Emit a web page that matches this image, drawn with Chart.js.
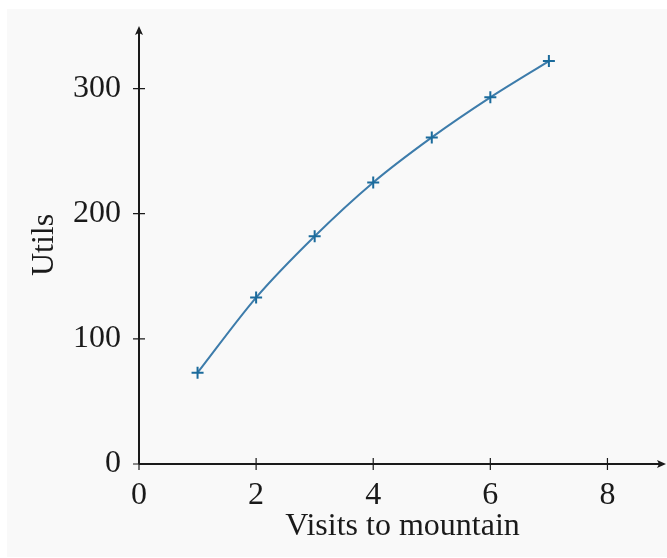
<!DOCTYPE html>
<html><head><meta charset="utf-8">
<script src="https://cdn.jsdelivr.net/npm/chart.js@4/dist/chart.umd.min.js"></script>
<style>html,body{margin:0;padding:0;background:#fff;}#wrap{width:667px;height:558px;}</style>
</head><body><div id="wrap"><canvas id="c" width="667" height="558"></canvas></div>
<script>
const visits = [1, 2, 3, 4, 5, 6, 7];
const utils = [73, 133, 182, 225, 261, 293, 322];
const xTicks = [0, 2, 4, 6, 8];
const yTicks = [0, 100, 200, 300];
const xLabel = 'Visits to mountain';
const yLabel = 'Utils';

const FONT = "'Liberation Serif', 'Times New Roman', serif";

const panelPlugin = {
  id: 'panel',
  beforeDraw(chart) {
    const ctx = chart.ctx;
    ctx.save();
    ctx.fillStyle = '#f9f9f9';
    ctx.fillRect(7, 9, 660, 548);
    ctx.restore();
  }
};

const axesPlugin = {
  id: 'axes',
  beforeDatasetsDraw(chart) {
    const ctx = chart.ctx;
    const xs = chart.scales.x, ys = chart.scales.y;
    const x0 = xs.getPixelForValue(0), y0 = ys.getPixelForValue(0);
    const xEnd = xs.getPixelForValue(xs.max), yEnd = ys.getPixelForValue(ys.max);
    ctx.save();
    ctx.strokeStyle = '#1a1a1a';
    ctx.fillStyle = '#1a1a1a';
    ctx.lineWidth = 2;
    ctx.beginPath();
    ctx.moveTo(x0, y0); ctx.lineTo(xEnd - 4, y0);
    ctx.moveTo(x0, y0); ctx.lineTo(x0, yEnd + 4);
    ctx.stroke();
    // ticks crossing the axes
    ctx.lineWidth = 1.2;
    ctx.beginPath();
    xTicks.forEach(v => { const p = xs.getPixelForValue(v); ctx.moveTo(p, y0 - 6); ctx.lineTo(p, y0 + 6); });
    yTicks.forEach(v => { const p = ys.getPixelForValue(v); ctx.moveTo(x0 - 6, p); ctx.lineTo(x0 + 6, p); });
    ctx.stroke();
    // arrow heads
    ctx.beginPath();
    ctx.moveTo(xEnd, y0); ctx.lineTo(xEnd - 9, y0 - 4); ctx.lineTo(xEnd - 7, y0); ctx.lineTo(xEnd - 9, y0 + 4); ctx.closePath();
    ctx.fill();
    ctx.beginPath();
    ctx.moveTo(x0, yEnd); ctx.lineTo(x0 - 4, yEnd + 9); ctx.lineTo(x0, yEnd + 7); ctx.lineTo(x0 + 4, yEnd + 9); ctx.closePath();
    ctx.fill();
    ctx.restore();
  }
};

new Chart(document.getElementById('c'), {
  type: 'line',
  data: {
    datasets: [{
      data: visits.map((v, i) => ({x: v, y: utils[i]})),
      borderColor: '#3d7cab',
      borderWidth: 2,
      tension: 0.3,
      pointStyle: 'cross',
      pointRadius: 6,
      pointBorderWidth: 2,
      pointBorderColor: '#1b6b9c',
      pointBackgroundColor: '#1b6b9c',
      fill: false,
      clip: false
    }]
  },
  options: {
    responsive: false,
    animation: false,
    layout: {autoPadding: false, padding: {left: 0, top: 26, right: 1, bottom: 0}},
    plugins: {legend: {display: false}, tooltip: {enabled: false}},
    scales: {
      x: {
        type: 'linear', min: 0, max: 9,
        afterBuildTicks: s => { s.ticks = xTicks.map(v => ({value: v})); },
        afterFit: s => { s.height = 94; s.paddingLeft = 0; s.paddingRight = 0; },
        grid: {display: false, drawTicks: false},
        border: {display: false},
        ticks: {color: '#1a1a1a', font: {family: FONT, size: 32}, padding: 12, maxRotation: 0},
        title: {display: true, text: xLabel, color: '#1a1a1a', font: {family: FONT, size: 32}, padding: {top: 0, bottom: 12}}
      },
      y: {
        type: 'linear', min: 0, max: 350,
        afterBuildTicks: s => { s.ticks = yTicks.map(v => ({value: v})); },
        afterFit: s => { s.width = 139; s.paddingTop = 0; s.paddingBottom = 0; },
        grid: {display: false, drawTicks: false},
        border: {display: false},
        ticks: {color: '#1a1a1a', font: {family: FONT, size: 32}, padding: 18},
        title: {display: true, text: yLabel, color: '#1a1a1a', font: {family: FONT, size: 32}, padding: {top: 25, bottom: 0}}
      }
    }
  },
  plugins: [panelPlugin, axesPlugin]
});
</script>
</body></html>
